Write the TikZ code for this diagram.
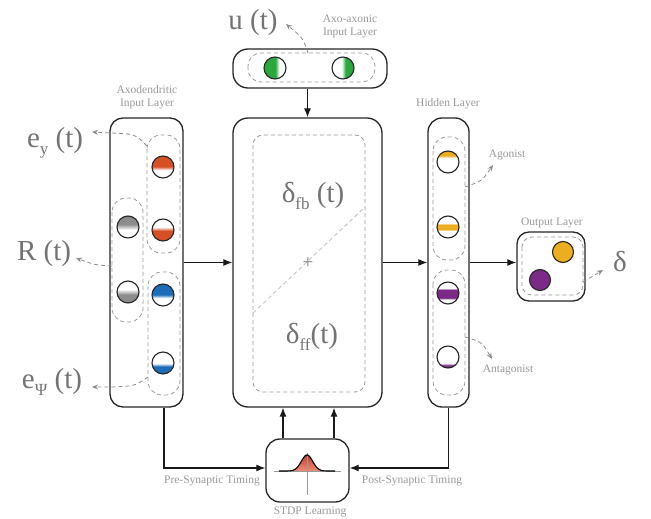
\documentclass[tikz,border=0pt]{standalone}
\usepackage{fontspec}
\setmainfont{Liberation Serif}
\usetikzlibrary{arrows.meta,calc}
\definecolor{cOr}{RGB}{214,80,38}
\definecolor{cBl}{RGB}{28,108,184}
\definecolor{cGy}{RGB}{140,140,140}
\definecolor{cYe}{RGB}{236,174,30}
\definecolor{cPu}{RGB}{124,42,136}
\definecolor{cGr}{RGB}{42,168,62}
\definecolor{cRed}{RGB}{200,62,42}
\definecolor{cSal}{RGB}{238,140,118}
\pgfdeclareverticalshading{orTop}{100bp}{color(0bp)=(white); color(43bp)=(white); color(51bp)=(cOr); color(100bp)=(cOr)}
\pgfdeclareverticalshading{orBot}{100bp}{color(0bp)=(cOr); color(48bp)=(cOr); color(57bp)=(white); color(100bp)=(white)}
\pgfdeclareverticalshading{blTop}{100bp}{color(0bp)=(white); color(43bp)=(white); color(51bp)=(cBl); color(100bp)=(cBl)}
\pgfdeclareverticalshading{blBot}{100bp}{color(0bp)=(cBl); color(42bp)=(cBl); color(49bp)=(white); color(100bp)=(white)}
\pgfdeclareverticalshading{gyTop}{100bp}{color(0bp)=(white); color(44bp)=(white); color(56bp)=(cGy); color(100bp)=(cGy)}
\pgfdeclareverticalshading{gyBot}{100bp}{color(0bp)=(cGy); color(44bp)=(cGy); color(56bp)=(white); color(100bp)=(white)}
\pgfdeclareverticalshading{yeTop}{100bp}{color(0bp)=(white); color(59bp)=(white); color(65bp)=(cYe); color(100bp)=(cYe)}
\pgfdeclareverticalshading{yeMid}{100bp}{color(0bp)=(white); color(41bp)=(white); color(45bp)=(cYe); color(55bp)=(cYe); color(59bp)=(white); color(100bp)=(white)}
\pgfdeclareverticalshading{puMid}{100bp}{color(0bp)=(white); color(35bp)=(white); color(39bp)=(cPu); color(57bp)=(cPu); color(61bp)=(white); color(100bp)=(white)}
\pgfdeclareverticalshading{puBot}{100bp}{color(0bp)=(cPu); color(31bp)=(cPu); color(36bp)=(white); color(100bp)=(white)}
\pgfdeclarehorizontalshading{grL}{100bp}{color(0bp)=(cGr); color(51bp)=(cGr); color(60bp)=(white); color(100bp)=(white)}
\pgfdeclarehorizontalshading{grR}{100bp}{color(0bp)=(white); color(47bp)=(white); color(56bp)=(cGr); color(100bp)=(cGr)}
\begin{document}
\begin{tikzpicture}[x=1pt,y=-1pt,
 box/.style={draw=black!85, line width=1.3pt, rounded corners=13pt, fill=white, inner sep=0pt},
 grp/.style={draw=black!40, dash pattern=on 4pt off 3pt, line width=0.8pt},
 flow/.style={draw=black!90, line width=1.2pt, -{Latex[length=9pt,width=7pt]}},
 lead/.style={draw=black!45, dash pattern=on 4pt off 3pt, line width=0.8pt, -{Stealth[length=6pt,width=5pt]}},
 big/.style={text=black!55, font=\fontsize{29}{30}\selectfont, inner sep=0pt},
 small/.style={text=black!40, font=\fontsize{11.5}{13}\selectfont, inner sep=0pt, align=center},
 neuron/.style={circle, draw=black!85, line width=1.1pt, minimum size=22pt, inner sep=0pt},
 nshade/.style={shade, shading=#1}]
\fill[white] (0,0) rectangle (651,519);
\path[use as bounding box] (0,0) rectangle (651,519);

% boxes
\node[box, minimum width=73pt, minimum height=289pt] (lbox) at (146.5,262.5) {};
\node[box, minimum width=149pt, minimum height=289pt, rounded corners=15pt] (cbox) at (307.5,262.5) {};
\node[box, minimum width=41pt, minimum height=289pt, rounded corners=14pt] (hbox) at (448.5,262.5) {};
\node[box, minimum width=154pt, minimum height=39pt, rounded corners=15pt] (ubox) at (310,68.5) {};
\node[box, minimum width=68pt, minimum height=69pt, rounded corners=12pt] (obox) at (551,266.5) {};
\node[box, minimum width=83pt, minimum height=63pt, rounded corners=14pt] (sbox) at (307.5,470.5) {};

% dashed groups
\draw[grp, rounded corners=14pt] (147,135) rectangle (180,253);
\draw[grp, rounded corners=14pt] (148,272) rectangle (180,395);
\draw[grp, rounded corners=14pt] (112,198) rectangle (143,322);
\draw[grp, rounded corners=14pt] (433,137) rectangle (465,260);
\draw[grp, rounded corners=14pt] (433,270) rectangle (465,395);
\draw[grp, rounded corners=10pt] (253,135) rectangle (365,392);
\draw[grp, rounded corners=13pt] (248,53) rectangle (375,82);
\draw[grp, rounded corners=10pt] (522,237) rectangle (583,295);
\draw[grp, draw=black!25] (253,313) -- (365,207);
\node[text=black!50, font=\fontsize{19}{19}\selectfont, inner sep=0pt] (plus) at (308,263) {+};

% neurons
\node[neuron, nshade=orTop] (o1) at (163,167) {};
\node[neuron, nshade=orBot] (o2) at (163,230) {};
\node[neuron, nshade=blTop] (b1) at (163,295) {};
\node[neuron, nshade=blBot] (b2) at (163,363) {};
\node[neuron, nshade=gyTop] (g1) at (128,227) {};
\node[neuron, nshade=gyBot] (g2) at (128,292) {};
\node[neuron, nshade=grL] (u1) at (275,68) {};
\node[neuron, nshade=grR] (u2) at (343,68) {};
\node[neuron, nshade=yeTop] (h1) at (448,162) {};
\node[neuron, nshade=yeMid] (h2) at (448,227) {};
\node[neuron, nshade=puMid] (h3) at (448,293) {};
\node[neuron, nshade=puBot] (h4) at (448,357) {};
\node[neuron, fill=cYe, minimum size=21pt] (y1) at (563,252) {};
\node[neuron, fill=cPu, minimum size=21pt] (y2) at (540,280) {};

% STDP curve
\shade[top color=cRed, bottom color=cSal] (283,471) -- plot[domain=283:331, samples=60] (\x,{471-16*exp(-(((\x-307)/8)^2))}) -- (331,471) -- cycle;
\draw[black!40, line width=0.9pt] (274,471) -- (341,471);
\draw[black!40, line width=0.9pt] (307,453) -- (307,495);
\draw[black, line width=1.1pt] plot[domain=279:335, samples=70] (\x,{471-16*exp(-(((\x-307)/8)^2))});

% big labels
\node[big, anchor=base] (ey) at (55,147) {e\raisebox{-7pt}{\fontsize{17}{17}\selectfont y} (t)};
\node[big, anchor=base] (rt) at (44,260) {R (t)};
\node[big, anchor=base] (ep) at (52,388) {e\raisebox{-7pt}{\fontsize{17}{17}\selectfont Ψ} (t)};
\node[big, anchor=base] (ut) at (253,30) {u (t)};
\node[big, anchor=base] (dfb) at (313,202) {δ\raisebox{-7pt}{\fontsize{17}{17}\selectfont fb} (t)};
\node[big, anchor=base] (dff) at (312,343) {δ\raisebox{-7pt}{\fontsize{17}{17}\selectfont ff}(t)};
\node[big, anchor=base] (dout) at (620,271) {δ};

% small labels
\node[small] (lblA) at (147,97) {Axodendritic\\Input Layer};
\node[small] (lblU) at (350,26) {Axo-axonic\\Input Layer};
\node[small] (lblH) at (448,104) {Hidden Layer};
\node[small] (lblO) at (552,223) {Output Layer};
\node[small] (lblAg) at (507,155) {Agonist};
\node[small] (lblAn) at (508,370) {Antagonist};
\node[small] (lblPre) at (212,481) {Pre-Synaptic Timing};
\node[small] (lblPost) at (412,481) {Post-Synaptic Timing};
\node[small] (lblS) at (310,512) {STDP Learning};

% main connectors
\draw[flow] (lbox.east) -- (cbox.west);
\draw[flow] (cbox.north |- ubox.south) -- (cbox.north);
\draw[flow] (cbox.east) -- (hbox.west);
\draw[flow] (hbox.east) -- (hbox.east -| obox.west);
\coordinate (preA) at ([xshift=17.5pt]lbox.south);
\coordinate (sW) at ([yshift=2.5pt]sbox.west);
\coordinate (sE) at ([yshift=2.5pt]sbox.east);
\draw[flow] (preA) |- (sW);
\draw[flow] (hbox.south) |- (sE);
\coordinate (s1) at ([xshift=-24.5pt]sbox.north);
\coordinate (s2) at ([xshift=26.5pt]sbox.north);
\draw[flow] (s1) -- (s1 |- cbox.south);
\draw[flow] (s2) -- (s2 |- cbox.south);

% leaders
\coordinate (eyS) at (147,146); \coordinate (eyT) at (92,132);
\draw[lead] (eyS) .. controls (135,134) .. (112,133) -- (eyT);
\coordinate (rS) at (112,266); \coordinate (rT) at (76,258);
\draw[lead] (rS) .. controls (95,265) .. (rT);
\coordinate (epS) at (148,377); \coordinate (epT) at (92,387);
\draw[lead] (epS) .. controls (135,386) .. (112,387) -- (epT);
\coordinate (uS) at (308,53); \coordinate (uT) at (286,24);
\draw[lead] (uS) .. controls (303,38) .. (uT);
\coordinate (agS) at (465,187); \coordinate (agT) at (493,165);
\draw[lead] (agS) .. controls (482,181) .. (agT);
\coordinate (anS) at (465,337); \coordinate (anT) at (492,359);
\draw[lead] (anS) .. controls (482,342) .. (anT);
\coordinate (dS) at (583,282); \coordinate (dT) at (603,270);
\draw[lead] (dS) -- (dT);
\end{tikzpicture}
\end{document}
